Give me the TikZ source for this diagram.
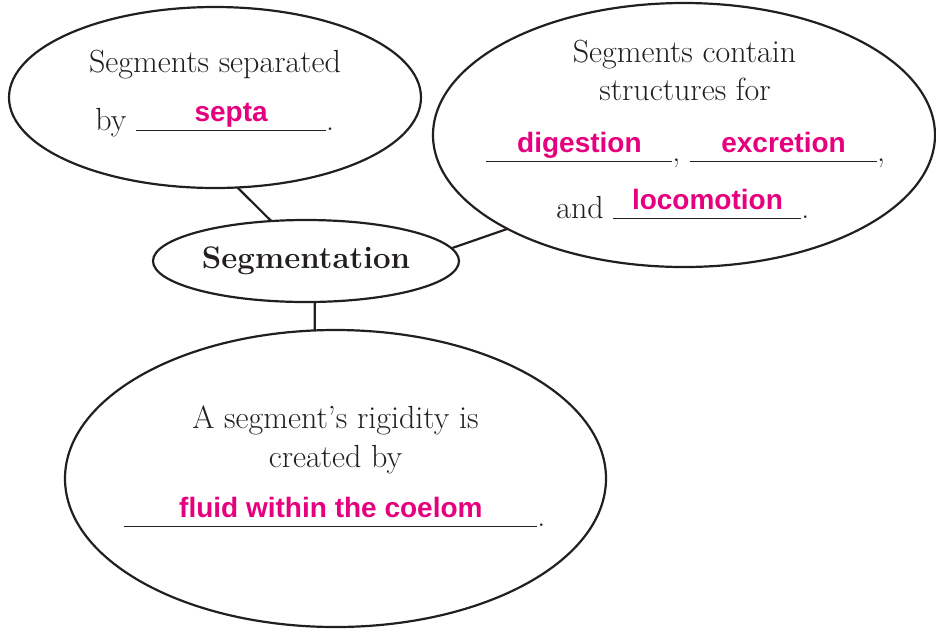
\documentclass[tikz,border=0pt]{standalone}
\usepackage{fontspec}
\usepackage{xcolor}
\usepackage{tikz}
\usetikzlibrary{shapes.geometric,positioning}
\newfontfamily\ansfont{Liberation Sans}
\definecolor{mapInk}{RGB}{35,31,32}
\definecolor{mapPink}{RGB}{230,0,126}
\newcommand{\ans}{\fontsize{14}{17}\selectfont\ansfont\bfseries\color{mapPink}}
\newcommand{\blank}[2]{\rlap{\rule[-0.5pt]{#1}{0.75pt}}\makebox[#1]{\raisebox{4.5pt}{\ans #2}}}

\begin{document}
\begin{tikzpicture}[x=0.5pt,y=-0.5pt,
  bubble/.style={ellipse,draw=mapInk,line width=1.1pt,inner sep=0pt,outer sep=0pt},
  txt/.style={anchor=base,inner sep=0pt,text=mapInk,font=\fontsize{16}{19}\selectfont},
  link/.style={draw=mapInk,line width=1.1pt}
]
\useasboundingbox (0,0) rectangle (936,628);

% Bubbles
\node[bubble,minimum width=206pt,minimum height=90.5pt] (septa) at (215,97.5) {};
\node[bubble,minimum width=251pt,minimum height=132pt] (organs) at (684,135) {};
\node[bubble,minimum width=153pt,minimum height=41pt,text=mapInk,
      font=\fontsize{15.6}{18}\selectfont\bfseries] (seg) at (306,261) {Segmentation};
\node[bubble,minimum width=270.5pt,minimum height=148.5pt] (rigid) at (335.5,478.5) {};

% Top left
\node[txt] (septa1) at (215,72) {Segments separated};
\node[txt,anchor=base west] (septa2) at (95,130) {by \blank{95pt}{septa}.};

% Top right
\node[txt] (organs1) at (684.5,62) {Segments contain};
\node[txt] (organs2) at (685,100) {structures for};
\node[txt,anchor=base west] (organs3) at (486,161)
  {\blank{93pt}{digestion}, \blank{93.5pt}{excretion},};
\node[txt,anchor=base west] (organs4) at (556,218) {and \blank{94pt}{locomotion}.};

% Bottom
\node[txt] (rigid1) at (335.5,428) {A segment’s rigidity is};
\node[txt] (rigid2) at (335.5,467) {created by};
\node[txt,anchor=base west] (rigid3) at (124,526) {\blank{206.5pt}{fluid within the coelom}.};

% Links
\draw[link] (septa.-76) -- (seg.131);
\draw[link] (seg.5) -- (organs.208.6);
\draw[link] (seg.-78) -- (rigid.98);
\end{tikzpicture}
\end{document}
